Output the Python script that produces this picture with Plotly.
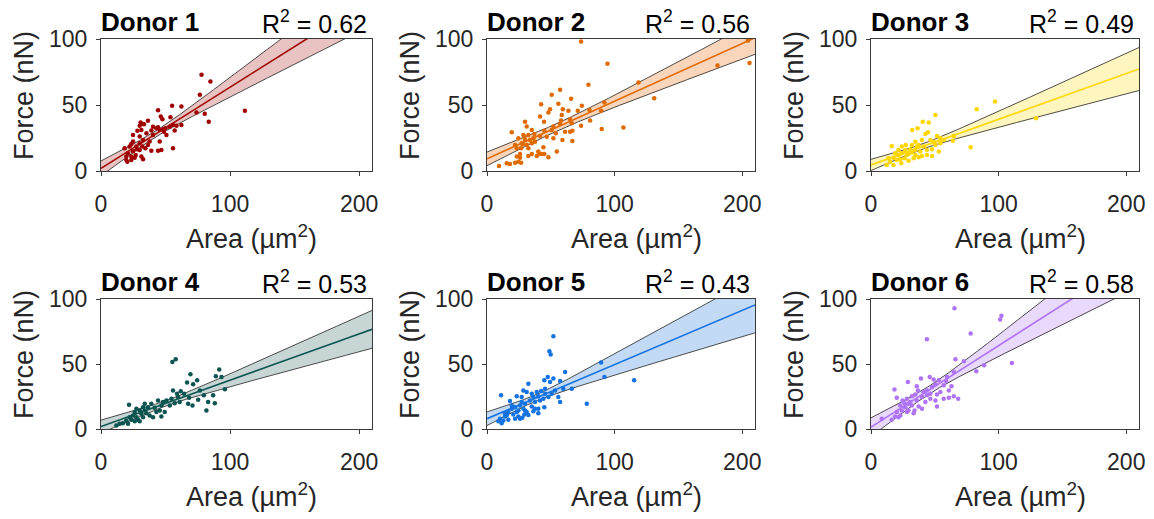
import numpy as np
import plotly.graph_objects as go

W, H = 1154, 519

donors = ["Donor 1", "Donor 2", "Donor 3", "Donor 4", "Donor 5", "Donor 6"]
r2_labels = ["0.62", "0.56", "0.49", "0.53", "0.43", "0.58"]
x_ticks = [0, 100, 200]
y_ticks = [0, 50, 100]

# regression lines (slope, intercept)
fit_slope = [0.615, 0.437, 0.346, 0.356, 0.417, 0.627]
fit_intercept = [2.0, 9.2, 4.6, 1.9, 7.9, 1.4]

area_d1 = [77.9, 84.8, 76.6, 55.1, 62.3, 44.2, 111.5, 74.0, 80.4, 83.5, 36.4, 32.6, 46.3, 47.6, 53.8, 44.2, 42.9, 45.5, 48.1, 49.9,
           48.8, 53.3, 55.8, 58.5, 62.3, 39.0, 40.3, 50.7, 57.1, 30.7, 33.3, 31.3, 28.2, 24.8, 30.0, 32.6, 30.0, 36.4, 37.7, 40.3,
           45.5, 46.8, 44.2, 55.8, 39.0, 34.4, 32.1, 24.8, 23.5, 22.2, 18.3, 20.9, 19.6, 23.5, 26.9, 24.8, 27.9, 30.0, 31.3, 32.6,
           26.1, 20.4, 19.6, 23.5, 27.4, 35.2, 30.0]
force_d1 = [72.9, 67.8, 57.7, 49.4, 48.8, 46.1, 45.6, 44.3, 43.3, 37.4, 38.0, 35.7, 41.2, 39.2, 40.8, 33.2, 32.4, 31.1, 31.6, 32.4,
            29.8, 33.6, 34.9, 34.2, 34.9, 30.6, 33.6, 27.3, 30.6, 36.7, 35.4, 31.1, 30.4, 27.3, 26.1, 23.5, 21.0, 19.7, 22.3, 27.3,
            22.3, 15.9, 15.4, 17.2, 15.4, 17.2, 18.5, 22.3, 20.5, 18.5, 17.2, 13.4, 10.9, 10.9, 12.1, 14.9, 16.5, 15.9, 10.9, 8.9,
            10.1, 7.1, 8.4, 8.4, 18.5, 28.6, 34.2]

area_d2 = [73.7, 94.4, 79.5, 57.3, 50.7, 65.9, 118.7, 131.0, 180.6, 205.7, 204.5, 42.4, 55.9, 49.4, 59.4, 74.3, 80.3, 89.4, 92.0, 41.6,
           58.6, 63.8, 71.1, 65.1, 29.8, 44.7, 58.0, 80.8, 31.1, 52.0, 57.3, 73.7, 89.9, 106.9, 19.4, 35.1, 44.9, 50.7, 53.9, 61.2,
           65.1, 66.9, 28.5, 32.4, 37.1, 41.6, 46.8, 52.0, 59.1, 66.9, 24.6, 29.8, 33.7, 37.6, 27.2, 31.1, 35.1, 22.0, 23.3, 26.7,
           32.4, 44.2, 54.7, 40.2, 35.1, 32.4, 39.0, 40.8, 42.9, 44.9, 48.1, 23.3, 25.9, 24.6, 26.7, 22.0, 15.5, 18.0, 9.4, 28.0,
           29.3, 36.3, 25.9, 66.4, 48.1]
force_d2 = [98.2, 81.2, 65.3, 61.5, 57.7, 54.7, 67.0, 55.2, 80.0, 81.8, 98.9, 50.6, 50.9, 46.8, 46.8, 49.4, 46.3, 45.6, 51.9, 41.2,
            42.5, 45.6, 45.6, 39.2, 37.4, 37.4, 38.2, 38.2, 33.7, 33.7, 35.7, 34.2, 31.9, 32.9, 29.4, 31.1, 30.4, 31.1, 28.6, 29.8,
            29.8, 30.4, 27.3, 27.3, 28.1, 26.6, 26.0, 24.8, 23.5, 22.8, 24.8, 23.5, 23.5, 22.2, 21.0, 19.7, 21.0, 19.7, 17.2, 17.2,
            17.2, 18.0, 14.7, 14.7, 12.9, 11.4, 11.4, 12.9, 12.9, 12.9, 10.4, 10.9, 10.1, 7.1, 6.3, 6.3, 5.8, 5.3, 3.8, 20.3,
            26.0, 24.8, 12.9, 36.2, 44.3]

area_d3 = [97.2, 82.8, 50.5, 40.5, 45.2, 36.5, 32.3, 129.3, 44.6, 42.6, 51.7, 54.4, 64.9, 64.1, 46.5, 39.9, 34.7, 32.0, 27.3, 24.1,
           16.2, 37.3, 41.2, 49.1, 54.4, 78.1, 21.5, 26.8, 30.8, 34.7, 38.6, 43.8, 47.8, 53.1, 18.9, 24.1, 29.4, 34.7, 39.9, 43.8,
           47.8, 13.6, 17.6, 22.9, 29.4, 33.4, 37.3, 15.0, 12.3, 17.6, 23.7, 26.3, 32.0, 35.9, 21.5, 50.5, 57.0, 28.1, 20.2]
force_d3 = [52.6, 46.8, 42.5, 37.4, 36.7, 32.4, 31.1, 40.0, 29.4, 28.1, 26.6, 24.8, 26.6, 23.0, 23.5, 23.5, 22.2, 19.7, 19.7, 18.5,
            19.0, 19.7, 18.5, 22.2, 21.0, 18.0, 15.9, 15.9, 16.5, 15.9, 14.7, 15.9, 16.5, 14.7, 13.4, 13.4, 12.9, 12.1, 11.4, 12.1,
            11.4, 9.6, 10.1, 8.9, 7.8, 9.6, 10.4, 7.1, 4.6, 4.6, 5.8, 9.6, 14.0, 18.5, 12.1, 19.7, 23.5, 12.1, 8.4]

area_d4 = [55.3, 57.9, 69.3, 74.5, 66.7, 71.4, 91.6, 89.0, 93.4, 96.0, 55.8, 61.8, 64.4, 79.7, 86.9, 75.3, 83.0, 88.2, 81.7, 68.3,
           59.7, 54.6, 50.7, 61.0, 67.5, 70.9, 44.2, 39.0, 33.9, 21.7, 32.6, 36.4, 41.6, 46.8, 45.5, 49.4, 40.3, 46.8, 30.0, 26.1,
           31.3, 35.2, 24.8, 27.4, 22.2, 23.5, 19.6, 26.1, 28.7, 17.0, 14.4, 11.9, 20.9, 32.6, 37.7, 30.0, 42.9, 53.3, 57.1, 76.6,
           58.9, 48.1, 27.4, 33.9]
force_d4 = [51.6, 53.7, 42.1, 37.5, 35.7, 34.4, 45.7, 40.5, 40.0, 30.5, 29.7, 29.0, 27.2, 25.9, 25.9, 22.5, 20.7, 19.9, 14.3, 24.1,
            24.6, 23.3, 22.0, 20.7, 19.5, 18.1, 22.0, 19.5, 19.5, 18.7, 16.8, 16.8, 16.4, 18.1, 14.3, 13.0, 9.1, 9.7, 14.3, 13.0,
            11.7, 12.2, 10.4, 9.1, 9.1, 7.1, 6.6, 6.0, 7.1, 4.5, 4.0, 2.7, 4.0, 9.1, 10.4, 6.0, 13.0, 18.1, 19.9, 29.7,
            27.2, 20.7, 15.6, 14.3]

area_d5 = [52.0, 48.9, 49.9, 89.4, 92.0, 115.3, 61.2, 47.6, 52.0, 44.9, 49.4, 57.3, 32.4, 59.8, 66.4, 78.2, 55.9, 57.3, 11.0, 18.0,
           28.5, 31.1, 23.3, 27.2, 39.0, 42.4, 45.5, 36.3, 40.2, 44.2, 48.1, 33.7, 37.6, 29.8, 25.9, 22.0, 35.1, 40.2, 44.9, 28.5,
           24.6, 19.4, 16.7, 31.1, 36.3, 40.2, 20.6, 24.6, 27.7, 32.4, 14.1, 10.2, 12.8, 16.7, 22.0, 25.9, 11.5, 8.9, 15.5, 23.3,
           27.2, 35.1, 41.6, 50.7, 53.3, 29.8, 19.4, 37.6, 29.3, 14.1, 45.5]
force_d5 = [71.4, 59.8, 57.3, 51.1, 40.0, 37.5, 43.9, 40.0, 38.8, 37.5, 36.2, 36.9, 34.9, 31.0, 31.0, 19.5, 24.6, 20.7, 25.9, 21.5,
            29.7, 28.4, 25.1, 24.6, 28.4, 29.2, 27.2, 24.6, 25.1, 23.3, 24.6, 22.0, 20.7, 19.5, 18.1, 16.8, 17.4, 15.6, 16.8, 15.6,
            14.3, 15.6, 13.0, 13.0, 13.7, 12.2, 11.2, 9.7, 8.6, 10.7, 9.7, 7.9, 6.6, 7.1, 7.9, 7.9, 4.5, 6.0, 10.4, 13.0,
            20.7, 27.2, 22.0, 27.2, 29.7, 14.3, 18.1, 15.6, 11.2, 12.2, 31.0]

area_d6 = [65.4, 101.2, 102.2, 78.1, 43.8, 110.4, 66.2, 72.8, 88.6, 82.5, 64.9, 39.1, 46.0, 49.1, 53.1, 58.8, 28.9, 35.9, 57.0, 63.1,
           18.4, 36.8, 43.8, 54.4, 46.5, 51.7, 64.9, 68.3, 61.0, 57.0, 20.2, 28.1, 32.0, 34.7, 39.9, 43.8, 46.5, 50.5, 42.6, 35.9,
           30.8, 26.3, 51.7, 22.9, 26.8, 32.0, 37.3, 39.9, 29.4, 34.1, 24.1, 20.2, 22.9, 18.9, 28.1, 33.4, 8.4, 16.2, 21.5, 29.4,
           41.2, 47.8, 50.5, 59.6, 24.7, 61.0]
force_d6 = [92.8, 84.3, 87.1, 73.5, 69.1, 50.8, 53.7, 52.1, 49.0, 44.4, 43.9, 38.8, 40.0, 38.0, 37.5, 36.9, 36.2, 32.8, 33.6, 32.8,
            30.3, 29.7, 29.7, 28.4, 27.2, 26.6, 25.1, 23.3, 24.1, 23.3, 24.1, 23.3, 25.1, 26.6, 24.6, 25.9, 23.3, 22.0, 20.7, 22.0,
            20.7, 19.9, 17.4, 18.1, 16.8, 18.1, 17.4, 15.6, 14.3, 14.3, 14.3, 13.0, 10.4, 9.7, 13.0, 12.2, 7.9, 7.1, 9.1, 19.5,
            28.4, 32.3, 34.4, 40.0, 22.0, 29.7]

areas = [area_d1, area_d2, area_d3, area_d4, area_d5, area_d6]
forces = [force_d1, force_d2, force_d3, force_d4, force_d5, force_d6]

colors = ["#A00000", "#E06A00", "#FFD700", "#0B5450", "#1473E0", "#AF73F5"]
band_colors = ["rgba(175,30,30,0.27)", "rgba(235,120,30,0.30)", "rgba(255,215,0,0.25)",
               "rgba(30,90,85,0.25)", "rgba(30,120,220,0.27)", "rgba(175,115,245,0.27)"]

# panel boxes in pixels: left, right, top, bottom
boxes = [(101, 372, 39, 171), (487, 755, 39, 171), (871, 1139, 39, 171),
         (101, 372, 299, 429), (487, 755, 299, 429), (871, 1139, 299, 429)]

FONT = "Liberation Sans, Arial, Helvetica, sans-serif"
TXT = "#262626"
T95 = 1.99

def px_x(p):
    return p / W

def px_y(p):
    return 1 - p / H

fig = go.Figure()
layout = dict(width=W, height=H, margin=dict(l=0, r=0, t=0, b=0, pad=0, autoexpand=False), autosize=False,
              paper_bgcolor="white", plot_bgcolor="white", showlegend=False,
              font=dict(family=FONT, color=TXT))
annotations = []

xs = np.linspace(0, 210, 421)
for i in range(6):
    k = "" if i == 0 else str(i + 1)
    xa, ya = "x" + k, "y" + k
    L, R, T, B = boxes[i]
    ax_common = dict(showline=True, linecolor="#3a3a3a", linewidth=1, mirror=True,
                     ticks="outside", ticklen=4, tickwidth=1, tickcolor="#3a3a3a",
                     showgrid=False, zeroline=False, automargin=False,
                     tickfont=dict(family=FONT, size=23, color=TXT))
    layout["xaxis" + k] = dict(domain=[px_x(L), px_x(R)], range=[0, 210], anchor=ya,
                               tickvals=x_ticks, ticklabelstandoff=8, **ax_common)
    layout["yaxis" + k] = dict(domain=[px_y(B), px_y(T)], range=[0, 100], anchor=xa,
                               tickvals=y_ticks, ticklabelstandoff=4, **ax_common)

    a = np.array(areas[i]); f = np.array(forces[i])
    n = len(a)
    # residual spread from the data's own least-squares fit
    p_slope, p_icpt = np.polyfit(a, f, 1)
    resid = f - (p_slope * a + p_icpt)
    s = np.sqrt(np.sum(resid ** 2) / (n - 2))
    xm = a.mean(); sxx = np.sum((a - xm) ** 2)
    fit = fit_slope[i] * xs + fit_intercept[i]
    hw = T95 * s * np.sqrt(1.0 / n + (xs - xm) ** 2 / sxx)
    up, lo = fit + hw, fit - hw

    fig.add_trace(go.Scatter(x=np.concatenate([xs, xs[::-1]]), y=np.concatenate([up, lo[::-1]]),
                             fill="toself", fillcolor=band_colors[i], line=dict(width=0),
                             mode="lines", xaxis=xa, yaxis=ya, hoverinfo="skip"))
    fig.add_trace(go.Scatter(x=xs, y=up, mode="lines", line=dict(color="#222222", width=0.8),
                             xaxis=xa, yaxis=ya, hoverinfo="skip"))
    fig.add_trace(go.Scatter(x=xs, y=lo, mode="lines", line=dict(color="#222222", width=0.8),
                             xaxis=xa, yaxis=ya, hoverinfo="skip"))
    fig.add_trace(go.Scatter(x=a, y=f, mode="markers", marker=dict(color=colors[i], size=4.5),
                             xaxis=xa, yaxis=ya, cliponaxis=True))
    fig.add_trace(go.Scatter(x=xs, y=fit, mode="lines", line=dict(color=colors[i], width=1.6),
                             xaxis=xa, yaxis=ya, hoverinfo="skip"))

    annotations.append(dict(text="<b>" + donors[i] + "</b>", x=px_x(L - 2), y=px_y(T - 17),
                            xref="paper", yref="paper", xanchor="left", yanchor="middle",
                            showarrow=False, font=dict(family=FONT, size=26, color="black")))
    annotations.append(dict(text="R<sup>2</sup> = " + r2_labels[i], x=px_x(R - 3), y=px_y(T - 17),
                            xref="paper", yref="paper", xanchor="right", yanchor="middle",
                            showarrow=False, font=dict(family=FONT, size=25, color="black")))
    annotations.append(dict(text="Area (µm<sup>2</sup>)", x=px_x((L + R) / 2 + 15), y=px_y(B + 66),
                            xref="paper", yref="paper", xanchor="center", yanchor="middle",
                            showarrow=False, font=dict(family=FONT, size=27, color=TXT)))
    annotations.append(dict(text="Force (nN)", x=px_x(L - 77), y=px_y((T + B) / 2 - 9),
                            xref="paper", yref="paper", xanchor="center", yanchor="middle",
                            textangle=-90, showarrow=False, font=dict(family=FONT, size=27, color=TXT)))

layout["annotations"] = annotations
fig.update_layout(**layout)
fig.write_html("out.html")
